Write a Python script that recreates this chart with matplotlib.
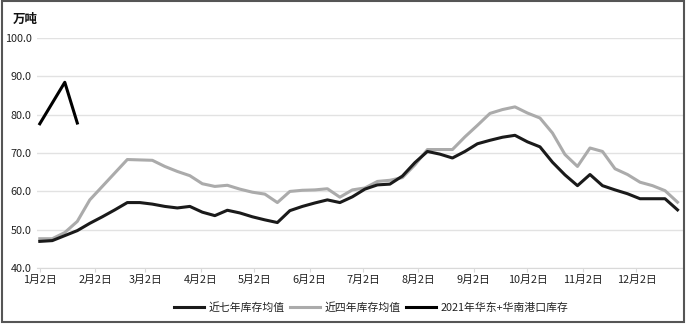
import matplotlib.pyplot as plt
from matplotlib.patches import Rectangle

plt.rcParams['font.family'] = ['Noto Sans CJK SC', 'DejaVu Sans']

# weekly points, day offsets from 1月2日
days = [7 * i for i in range(52)]

avg7 = [47.0, 47.2, 48.5, 49.8, 51.7, 53.4, 55.2, 57.1, 57.1, 56.7,
        56.1, 55.7, 56.1, 54.6, 53.7, 55.1, 54.4, 53.4, 52.6, 51.9,
        55.0, 56.1, 57.0, 57.8, 57.1, 58.6, 60.6, 61.7, 61.9, 64.0,
        67.5, 70.4, 69.7, 68.7, 70.4, 72.4, 73.3, 74.1, 74.6, 72.9,
        71.6, 67.6, 64.3, 61.5, 64.4, 61.5, 60.4, 59.4, 58.1, 58.1,
        58.1, 55.2]
avg4 = [47.7, 47.7, 49.3, 52.2, 57.8, 61.3, 64.8, 68.3, 68.2, 68.1,
        66.5, 65.2, 64.1, 62.0, 61.3, 61.6, 60.6, 59.8, 59.3, 57.1,
        60.0, 60.3, 60.4, 60.7, 58.5, 60.4, 60.9, 62.6, 62.9, 63.6,
        66.9, 70.9, 70.9, 70.9, 74.2, 77.2, 80.3, 81.3, 82.0, 80.4,
        79.1, 75.2, 69.6, 66.5, 71.3, 70.4, 65.9, 64.4, 62.4, 61.5,
        60.2, 57.2]
y2021 = [77.6, 83.0, 88.4, 77.8]

tick_days = [0, 31, 59, 90, 120, 151, 181, 212, 243, 273, 304, 334]
tick_labels = ['1月2日', '2月2日', '3月2日', '4月2日', '5月2日', '6月2日',
               '7月2日', '8月2日', '9月2日', '10月2日', '11月2日', '12月2日']
y_ticks = [40, 50, 60, 70, 80, 90, 100]

fig = plt.figure(figsize=(6.87, 3.25), dpi=100)
ax = fig.add_axes([0.054, 0.1745, 0.94, 0.7095])

ax.plot(days, avg7, color='#1a1a1a', lw=2.2, label='近七年库存均值', zorder=3)
ax.plot(days, avg4, color='#ababab', lw=2.2, label='近四年库存均值', zorder=2)
ax.plot(days[:len(y2021)], y2021, color='#000000', lw=2.2,
        label='2021年华东+华南港口库存', zorder=4)

ax.set_xlim(-1.5, 360)
ax.set_ylim(40, 100)
ax.set_yticks(y_ticks)
ax.set_yticklabels(['%.1f' % v for v in y_ticks])
ax.set_xticks(tick_days)
ax.set_xticklabels(tick_labels)
ax.grid(axis='y', color='#e2e2e2', lw=1.0)
ax.set_axisbelow(True)
for s in ['top', 'right', 'left']:
    ax.spines[s].set_visible(False)
ax.spines['bottom'].set_color('#d9d9d9')
ax.tick_params(axis='y', length=0, labelsize=7.8, labelcolor='#222222', pad=4)
ax.tick_params(axis='x', length=3, color='#d9d9d9', labelsize=7.8,
               labelcolor='#222222', pad=2)

fig.text(0.018, 0.96, '万吨', fontsize=9, color='#111111', va='top',
         fontweight='bold')

fig.legend(loc='center', bbox_to_anchor=(0.54, 0.055), ncol=3, frameon=False,
           fontsize=7.8, handlelength=2.8, columnspacing=0.5, handletextpad=0.4,
           labelcolor='#222222')

fig.patches.append(Rectangle((0.003, 0.008), 0.992, 0.99, transform=fig.transFigure,
                             fill=False, edgecolor='#555555', lw=1.5))

fig.savefig('out.png', dpi=100)
